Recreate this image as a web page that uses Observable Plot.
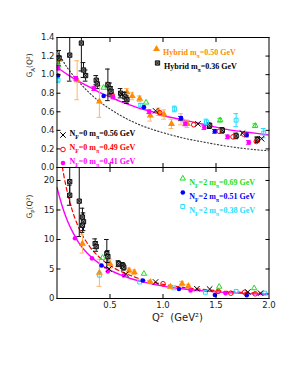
<!DOCTYPE html>
<html><head><meta charset="utf-8">
<script src="https://cdn.jsdelivr.net/npm/d3@7"></script>
<script src="https://cdn.jsdelivr.net/npm/@observablehq/plot@0.6"></script>
<style>
body{margin:0;background:#fff;}
#chart{position:relative;width:300px;height:388px;}
#chart svg{position:absolute;left:0;overflow:visible;}
</style></head><body><div id="chart"></div>
<script>
// ---------- tick labels ----------
const xTicks = [0.5, 1.0, 1.5, 2.0];
const xInnerTicks = [0.5, 1.0, 1.5];
const gaTicks = [0, 0.2, 0.4, 0.6, 0.8, 1.0, 1.2, 1.4];
const gpTicks = [0, 5, 10, 15, 20];

// ---------- G_A(Q^2) data: [Q2, value, error] ----------
const gaHyb050 = [[0.02,1.16,0.04],[0.19,0.94,0.21],[0.40,0.71,0.17],[0.48,0.88,0.04],[0.52,0.80,0.04],[0.66,0.81,0.04],[0.71,0.77,0.04],[0.78,0.74,0.03],[0.88,0.56,0.06],[0.96,0.60,0.04],[1.01,0.57,0.05],[1.08,0.47,0.05],[1.17,0.52,0.06],[1.23,0.47,0.04]];
const gaHyb036 = [[0.02,1.18,0.08],[0.12,1.21,0.28],[0.23,1.34,0.30],[0.25,1.05,0.08],[0.27,0.99,0.06],[0.37,0.94,0.05],[0.38,0.90,0.05],[0.48,0.89,0.17],[0.50,0.85,0.06],[0.51,0.82,0.05],[0.60,0.80,0.05],[0.64,0.76,0.05],[0.66,0.73,0.04],[1.44,0.45,0.03],[1.56,0.40,0.03],[1.69,0.34,0.03],[1.89,0.30,0.03]];
const gaNf0m056 = [[0.61,0.79],[0.93,0.61],[1.33,0.47],[1.75,0.37],[1.93,0.31]];
const gaNf0m049 = [[0.97,0.59],[1.29,0.46],[1.53,0.39],[1.66,0.33],[1.76,0.36],[1.88,0.28]];
const gaNf0m041 = [[0.01,1.07,0.02],[0.18,0.96,0.02],[0.35,0.85,0.02],[0.53,0.76,0.02],[0.87,0.60,0.02],[1.21,0.47,0.02],[1.39,0.43,0.02],[1.61,0.33,0.02],[1.81,0.27,0.02]];
const gaNf2m069 = [[0.01,1.10],[0.44,0.86],[0.84,0.70],[1.54,0.51,0.02],[1.87,0.45,0.02]];
const gaNf2m051 = [[0.01,0.99],[0.44,0.77],[0.82,0.65],[1.17,0.53,0.02],[1.49,0.39,0.02],[1.79,0.35,0.02]];
const gaNf2m038 = [[0.01,0.94,0.02],[0.79,0.67,0.02],[1.11,0.63,0.03],[1.41,0.49,0.03],[1.69,0.51,0.07],[1.95,0.37,0.05]];
// curves
const gaCurveQ2 = [0,0.1,0.2,0.3,0.4,0.5,0.6,0.7,0.8,0.9,1.0,1.2,1.4,1.6,1.8,2.0];
const gaFit = [1.08,1.00,0.93,0.87,0.81,0.76,0.71,0.67,0.63,0.60,0.56,0.51,0.46,0.41,0.38,0.35];
const gaDipole = [1.26,1.07,0.93,0.81,0.71,0.63,0.56,0.50,0.45,0.41,0.375,0.315,0.27,0.23,0.20,0.18];

// ---------- G_P(Q^2) data ----------
const gpHyb050 = [[0.24,9.3,1.6],[0.40,4.35,2.3],[0.50,5.9,0.8],[0.68,4.75,0.4],[0.73,4.45,0.4],[0.88,2.8,0.3],[1.07,2.0,0.3],[1.18,2.5,0.4],[1.24,2.1,0.3]];
const gpHyb036 = [[0.12,19.8,2.6],[0.12,17.5,1.7],[0.21,16.5,6.0],[0.24,13.8,1.5],[0.25,13.0,1.5],[0.24,12.4,1.2],[0.36,9.3,0.8],[0.37,8.8,0.8],[0.47,7.6,2.4],[0.48,7.1,1.0],[0.58,5.9,0.5],[0.62,5.6,0.5],[0.63,5.3,0.5]];
const gpNf0m056 = [[0.49,5.0],[0.65,4.1],[0.93,2.8],[1.32,1.65],[1.44,1.6],[1.80,1.1],[1.92,0.9]];
const gpNf0m049 = [[1.00,2.5],[1.52,1.2],[1.64,0.9],[1.77,1.05],[1.87,0.8]];
const gpNf0m041 = [[0.17,10.2],[0.33,6.8],[0.48,4.6],[0.63,3.9],[1.26,1.35],[1.59,0.9]];
const gpNf2m069 = [[0.43,6.9],[0.82,4.2],[1.53,2.0],[1.86,1.75]];
const gpNf2m051 = [[0.42,5.6],[0.81,3.05],[1.15,1.6],[1.49,0.6],[1.79,0.55]];
const gpNf2m038 = [[0.40,3.95],[0.78,2.8],[1.10,1.8],[1.40,1.05],[1.69,1.2],[1.96,0.9]];
const gpFitQ2 = [0,0.05,0.1,0.15,0.2,0.3,0.4,0.5,0.6,0.7,0.8,1.0,1.2,1.4,1.6,1.8,2.0];
const gpFit = [18.8,15.6,13.1,11.2,9.6,7.4,5.9,4.8,4.0,3.35,2.85,2.1,1.6,1.25,1.0,0.82,0.68];
const gpDashQ2 = [0.04,0.06,0.1,0.15,0.2,0.3,0.4,0.5,0.6,0.7,0.8,1.0,1.2,1.4,1.6,1.8,2.0];
const gpDash = [23.5,21.3,17.8,14.6,12.2,9.0,7.0,5.6,4.6,3.85,3.25,2.4,1.85,1.5,1.2,1.0,0.85];

// ---------- legend labels ----------
const lblHyb050 = "Hybrid m_{π}=0.50 GeV";
const lblHyb036 = "Hybrid m_{π}=0.36 GeV";
const lblNf0m056 = "N_{F}=0 m_{π}=0.56 GeV";
const lblNf0m049 = "N_{F}=0 m_{π}=0.49 GeV";
const lblNf0m041 = "N_{F}=0 m_{π}=0.41 GeV";
const lblNf2m069 = "N_{F}=2 m_{π}=0.69 GeV";
const lblNf2m051 = "N_{F}=2 m_{π}=0.51 GeV";
const lblNf2m038 = "N_{F}=2 m_{π}=0.38 GeV";

// ---------- styles ----------
const ORANGE = "#ff8c00", MAG = "#ff00ff", RED = "#ff0000", GREEN = "#22dd22", BLUE = "#0000ff", CYAN = "#22ddff";
const S = {
  hyb050: {symbol:"triangle", fill:ORANGE, stroke:"none", err:"#ffb366", r:2.6, color:ORANGE},
  hyb036: {symbol:"square", fill:"#9a9a9a", stroke:"#111", err:"#111", r:2.4, overlay:{symbol:"times", stroke:"#111", r:2.0}, color:"#000"},
  nf0m056: {symbol:"times", fill:"none", stroke:"#000", err:"#000", r:2.6, color:"#000"},
  nf0m049: {symbol:"circle", fill:"none", stroke:RED, err:RED, r:2.3, color:RED},
  nf0m041: {symbol:"circle", fill:MAG, stroke:"none", err:MAG, r:2.3, color:MAG},
  nf2m069: {symbol:"triangle2", fill:"none", stroke:GREEN, err:GREEN, r:2.6, color:GREEN},
  nf2m051: {symbol:"circle", fill:BLUE, stroke:"none", err:BLUE, r:2.3, color:BLUE},
  nf2m038: {symbol:"square", fill:"none", stroke:CYAN, err:CYAN, r:2.2, color:CYAN}
};

function series(data, st, cap = 0.022) {
  const rows = data.map(([x, y, e]) => ({x, y, e}));
  const eb = rows.filter(d => d.e != null);
  const m = [];
  if (eb.length) {
    m.push(Plot.ruleX(eb, {x:"x", y1:d => d.y - d.e, y2:d => d.y + d.e, stroke:st.err, strokeWidth:1, clip:true}));
    m.push(Plot.ruleY(eb, {y:d => d.y + d.e, x1:d => d.x - cap, x2:d => d.x + cap, stroke:st.err, strokeWidth:1, clip:true}));
    m.push(Plot.ruleY(eb, {y:d => d.y - d.e, x1:d => d.x - cap, x2:d => d.x + cap, stroke:st.err, strokeWidth:1, clip:true}));
  }
  m.push(Plot.dot(rows, {x:"x", y:"y", symbol:st.symbol, r:st.r, fill:st.fill, stroke:st.stroke, strokeWidth:1, clip:true}));
  if (st.overlay) m.push(Plot.dot(rows, {x:"x", y:"y", symbol:st.overlay.symbol, r:st.overlay.r, stroke:st.overlay.stroke, strokeWidth:0.9, clip:true}));
  return m;
}
function legend(st, label, anchor, dxs, dy) {
  const m = [Plot.dot([0], {frameAnchor:anchor, dx:dxs, dy, symbol:st.symbol, r:st.r, fill:st.fill, stroke:st.stroke, strokeWidth:1})];
  if (st.overlay) m.push(Plot.dot([0], {frameAnchor:anchor, dx:dxs, dy, symbol:st.overlay.symbol, r:st.overlay.r, stroke:st.overlay.stroke, strokeWidth:0.9}));
  m.push(Plot.text([label], {text:d => d, frameAnchor:anchor, dx:dxs + 6.5, dy:dy + 0.5, textAnchor:"start", fill:st.color, fontFamily:"Liberation Serif", fontWeight:"bold", fontSize:8}));
  return m;
}
function curve(xs, ys, opts) {
  const rows = xs.map((x, i) => ({x, y: ys[i]}));
  return Plot.line(rows, {x:"x", y:"y", curve:"monotone-x", clip:true, ...opts});
}
const tickOpts = {tickSize:-4, tickFormat:() => "", label:null, stroke:"#000"};
const baseStyle = {fontFamily:"DejaVu Sans", fontSize:"8.5px", background:"transparent", overflow:"visible", color:"#222"};

// ---------- top panel ----------
const topPlot = Plot.plot({
  width:300, height:167, marginTop:37, marginBottom:0, marginLeft:56.5, marginRight:31.5,
  x:{domain:[0, 2]}, y:{domain:[0, 1.4]},
  style:baseStyle,
  marks:[
    curve(gaCurveQ2, gaDipole, {stroke:"#333", strokeWidth:1.1, strokeDasharray:"1.2,2.2"}),
    curve(gaCurveQ2, gaFit, {stroke:MAG, strokeWidth:1.4}),
    ...series(gaHyb050, S.hyb050),
    ...series(gaHyb036, S.hyb036),
    ...series(gaNf2m038, S.nf2m038),
    ...series(gaNf2m069, S.nf2m069),
    ...series(gaNf2m051, S.nf2m051),
    ...series(gaNf0m041, S.nf0m041),
    ...series(gaNf0m049, S.nf0m049),
    ...series(gaNf0m056, S.nf0m056),
    Plot.axisY(gaTicks, {anchor:"left", ...tickOpts}),
    Plot.axisY(gaTicks, {anchor:"right", ...tickOpts}),
    Plot.axisX(xInnerTicks, {anchor:"top", ...tickOpts}),
    Plot.axisX(xInnerTicks, {anchor:"bottom", ...tickOpts}),
    Plot.axisY(gaTicks, {anchor:"left", tickSize:0, tickPadding:2.5, tickFormat:d3.format(".1f"), label:null}),
    Plot.frame({stroke:"#000", strokeWidth:1}),
    Plot.text(["G_{A}(Q²)"], {text:d => d, frameAnchor:"left", dx:-27.5, dy:-25, rotate:-90, fontFamily:"DejaVu Sans", fontSize:7.5, fill:"#222"}),
    ...legend(S.hyb050, lblHyb050, "top-left", 99.5, 11.5),
    ...legend(S.hyb036, lblHyb036, "top-left", 100.5, 25.5),
    ...legend(S.nf0m056, lblNf0m056, "bottom-left", 6, -32.5),
    ...legend(S.nf0m049, lblNf0m049, "bottom-left", 6, -18),
    ...legend(S.nf0m041, lblNf0m041, "bottom-left", 6, -4.5)
  ]
});

// ---------- bottom panel ----------
const botPlot = Plot.plot({
  width:300, height:160, marginTop:0, marginBottom:29, marginLeft:56.5, marginRight:31.5,
  x:{domain:[0, 2]}, y:{domain:[0, 22.2]},
  style:baseStyle,
  marks:[
    curve(gpDashQ2, gpDash, {stroke:RED, strokeWidth:1.2, strokeDasharray:"4,3"}),
    curve(gpFitQ2, gpFit, {stroke:MAG, strokeWidth:1.4}),
    ...series(gpHyb050, S.hyb050),
    ...series(gpHyb036, S.hyb036),
    ...series(gpNf2m038, S.nf2m038),
    ...series(gpNf2m069, S.nf2m069),
    ...series(gpNf2m051, S.nf2m051),
    ...series(gpNf0m041, S.nf0m041),
    ...series(gpNf0m049, S.nf0m049),
    ...series(gpNf0m056, S.nf0m056),
    Plot.axisY(gpTicks, {anchor:"left", ...tickOpts}),
    Plot.axisY(gpTicks, {anchor:"right", ...tickOpts}),
    Plot.axisX(xInnerTicks, {anchor:"top", ...tickOpts}),
    Plot.axisX(xInnerTicks, {anchor:"bottom", ...tickOpts}),
    Plot.axisY(gpTicks, {anchor:"left", tickSize:0, tickPadding:2.5, label:null}),
    Plot.axisX(xTicks, {anchor:"bottom", tickSize:0, tickPadding:3, tickFormat:d3.format(".1f"), label:null}),
    Plot.frame({stroke:"#000", strokeWidth:1}),
    Plot.text(["G_{P}(Q²)"], {text:d => d, frameAnchor:"left", dx:-27.5, dy:-14.5, rotate:-90, fontFamily:"DejaVu Sans", fontSize:7.5, fill:"#222"}),
    Plot.text(["Q²  (GeV²)"], {text:d => d, frameAnchor:"bottom", dx:14.5, dy:22, fontFamily:"DejaVu Sans", fontSize:10, fill:"#222"}),
    ...legend(S.nf2m069, lblNf2m069, "top-left", 125.8, 11),
    ...legend(S.nf2m051, lblNf2m051, "top-left", 125.8, 25),
    ...legend(S.nf2m038, lblNf2m038, "top-left", 125.8, 39)
  ]
});

// sub/superscript rendering for "_{...}" and "^{...}"
function richText(svg) {
  d3.select(svg).selectAll("text").each(function () {
    const s = this.textContent;
    if (!/[_^]\{/.test(s)) return;
    this.textContent = "";
    const re = /([_^])\{([^}]*)\}|([^_^]+)/g;
    let m;
    while ((m = re.exec(s))) {
      const t = d3.select(this).append("tspan");
      if (m[1]) {
        t.attr("baseline-shift", m[1] === "_" ? "sub" : "super").style("font-size", "0.72em").text(m[2]);
      } else t.text(m[3]);
    }
  });
}
richText(topPlot); richText(botPlot);
topPlot.style.top = "0px";
botPlot.style.top = "167px";
const chart = document.getElementById("chart");
chart.appendChild(topPlot);
chart.appendChild(botPlot);
</script></body></html>
